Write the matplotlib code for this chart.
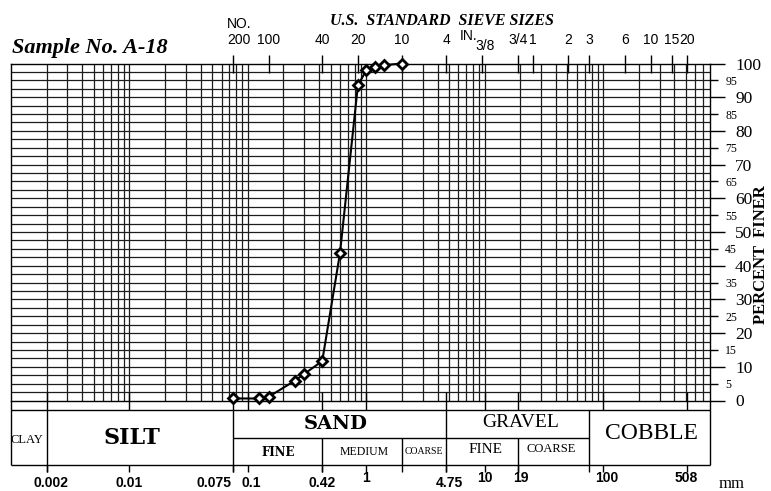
import numpy as np
import matplotlib
matplotlib.use("Agg")
import matplotlib.pyplot as plt
from matplotlib.ticker import NullLocator, FixedLocator, FixedFormatter
from matplotlib.transforms import offset_copy

# ---------------- data ----------------
grain_size_mm = [2.0, 1.4, 1.18, 1.0, 0.85, 0.6, 0.425, 0.3, 0.25, 0.15, 0.125, 0.075]
percent_finer = [100.0, 99.5, 99.0, 98.0, 93.5, 43.7, 11.7, 7.9, 5.9, 1.1, 0.6, 0.6]

sieve_labels = ["200", "100", "40", "20", "10", "4", "3/8", "3/4", "1", "2", "3", "6", "10", "15", "20"]
sieve_mm = [0.075, 0.15, 0.425, 0.85, 2.0, 4.75, 9.5, 19.0, 25.4, 50.8, 76.2, 152.4, 254.0, 381.0, 508.0]

size_labels = ["0.002", "0.01", "0.075", "0.1", "0.42", "1", "4.75", "10", "19", "100", "508"]
size_mm = [0.002, 0.01, 0.075, 0.1, 0.42, 1.0, 4.75, 10.0, 19.0, 100.0, 508.0]

y_major = [0, 10, 20, 30, 40, 50, 60, 70, 80, 90, 100]
y_minor = [5, 15, 25, 35, 45, 55, 65, 75, 85, 95]

# class boundaries (mm)
b_clay_silt, b_silt_sand, b_fine_med, b_med_coarse, b_sand_gravel, b_fg_cg, b_gravel_cobble = \
    0.002, 0.075, 0.42, 2.0, 4.75, 19.0, 76.2

X_MIN, X_MAX = 0.001, 800.0

# ---------------- figure ----------------
W, H = 771, 491
fig = plt.figure(figsize=(W / 100, H / 100), dpi=100)
ax = fig.add_axes([11 / W, (H - 400.5) / H, (710 - 11) / W, 337 / H])
ax.set_xscale("log")
ax.set_xlim(X_MIN, X_MAX)
ax.set_ylim(0, 100)
ax.xaxis.set_major_locator(NullLocator())
ax.xaxis.set_minor_locator(NullLocator())

GC = "#1c1c1c"
# vertical log grid
for d in range(-3, 3):
    for k in range(1, 10):
        v = k * 10.0 ** d
        if X_MIN < v < X_MAX:
            ax.axvline(v, color=GC, lw=0.9, zorder=1)
# horizontal grid every 2.5 %
for yv in np.arange(2.5, 100, 2.5):
    ax.axhline(yv, color=GC, lw=0.9, zorder=1)

for s in ax.spines.values():
    s.set_linewidth(1.0)
    s.set_color("black")

# right-hand percent axis
ax.yaxis.tick_right()
ax.yaxis.set_major_locator(FixedLocator(y_major))
ax.yaxis.set_minor_locator(FixedLocator(y_minor))
ax.yaxis.set_major_formatter(FixedFormatter([str(v) for v in y_major]))
ax.yaxis.set_minor_formatter(FixedFormatter([str(v) for v in y_minor]))
ax.tick_params(axis="y", which="major", direction="out", length=11, width=1,
               pad=7, labelsize=12.5, labelfontfamily="Liberation Serif")
ax.tick_params(axis="y", which="minor", direction="out", length=6, width=1,
               pad=5, labelsize=8.5, labelfontfamily="Liberation Serif")

fig.text(761 / W, (H - 255) / H, "PERCENT  FINER", rotation=90, ha="center", va="center",
         family="Liberation Serif", fontweight="bold", fontsize=12)

# ---------------- data curve ----------------
ax.plot(grain_size_mm, percent_finer, color="black", lw=1.5, marker="D", ms=5.5,
        mfc="white", mec="black", mew=2.0, zorder=5, clip_on=False)

# ---------------- helper for lines outside the axes ----------------
def vline(x, y0, y1, lw=1.0):
    ax.plot([x, x], [y0, y1], color="black", lw=lw, clip_on=False, zorder=3,
            solid_capstyle="butt")

def hline(x0, x1, y, lw=1.0):
    ax.plot([x0, x1], [y, y], color="black", lw=lw, clip_on=False, zorder=3,
            solid_capstyle="butt")

# top sieve ticks and labels
lab_font = ["Liberation Sans Narrow", "Liberation Sans"]
for mm, lab in zip(sieve_mm, sieve_labels):
    vline(mm, 97.3, 102.6)
    dx = 0
    if lab == "200":
        dx = 6
    elif lab == "3/8":
        dx = 3
    yy = 105.3 if lab == "3/8" else 106.9
    tr = offset_copy(ax.transData, fig=fig, x=dx, y=0, units="dots")
    ax.text(mm, yy, lab, transform=tr, ha="center", va="center", fontsize=10,
            family=lab_font, clip_on=False)
ax.text(sieve_mm[0], 111.7, "NO.", transform=offset_copy(ax.transData, fig=fig, x=6, y=0, units="dots"),
        ha="center", va="center", fontsize=10, family=lab_font)
ax.text(sieve_mm[6], 108.3, "IN.", transform=offset_copy(ax.transData, fig=fig, x=-13, y=0, units="dots"),
        ha="center", va="center", fontsize=10, family=lab_font)

fig.text(442 / W, (H - 21) / H, "U.S.  STANDARD  SIEVE SIZES",
         ha="center", va="center", fontsize=11.5, family="Liberation Serif",
         fontweight="bold", fontstyle="italic")
fig.text(12 / W, (H - 52.5) / H, "Sample No. A-18", ha="left", va="baseline",
         fontsize=16, family="Liberation Serif", fontweight="bold", fontstyle="italic")

# ---------------- classification table ----------------
T_TOP, T_MID, T_BOT, T_TICK = -2.82, -11.04, -19.14, -21.3
hline(X_MIN, X_MAX, T_TOP)
hline(X_MIN, X_MAX, T_BOT)
hline(b_silt_sand, b_gravel_cobble, T_MID)
vline(X_MIN, 0, T_BOT)
vline(X_MAX, 0, T_BOT)
# full-height boundaries
for b in [b_clay_silt, b_silt_sand, b_sand_gravel, b_gravel_cobble]:
    vline(b, T_TOP, T_TICK)
# sub-class boundaries
for b in [b_fine_med, b_med_coarse, b_fg_cg]:
    vline(b, T_MID, T_TICK)
# ticks between plot and table, and below the table
for mm in size_mm:
    vline(mm, 2.5, T_TOP)
    vline(mm, T_BOT, T_TICK)

def tlabel(x, y, s, size, family="Liberation Serif", weight="normal"):
    ax.text(x, y, s, ha="center", va="center", fontsize=size, family=family,
            fontweight=weight, clip_on=False)

tlabel(0.00137, -11.6, "CLAY", 9)
tlabel(0.0105, -11.0, "SILT", 16, family="DejaVu Serif", weight="bold")
tlabel(0.55, -7.0, "SAND", 14, family="DejaVu Serif", weight="bold")
tlabel(0.18, -15.4, "FINE", 8.5, family="DejaVu Serif", weight="bold")
tlabel(0.97, -15.2, "MEDIUM", 8.5)
tlabel(3.05, -15.0, "COARSE", 7)
tlabel(20.0, -6.4, "GRAVEL", 14)
tlabel(10.2, -14.4, "FINE", 11)
tlabel(36.5, -14.4, "COARSE", 9)
tlabel(255.0, -9.9, "COBBLE", 17)

# size labels under the table
for mm, lab in zip(size_mm, size_labels):
    dx, dy = 0, 0
    ha = "center"
    if lab == "0.002":
        dx = 4
    if lab == "0.075":
        ha, dx = "right", -2
    if lab == "0.1":
        dx = 3
    if lab == "4.75":
        dx = 3
    if lab == "19":
        dx = 3
    if lab == "100":
        dx = 4
    if lab in ("1", "10", "100", "508", "19"):
        dy = 1.5
    tr = offset_copy(ax.transData, fig=fig, x=dx, y=0, units="dots")
    ax.text(mm, -24.6 + dy, lab, transform=tr, ha=ha, va="center", fontsize=10,
            family=lab_font, fontweight="bold", clip_on=False)
fig.text(732 / W, (H - 484) / H, "mm", ha="center", va="center", fontsize=12,
         family="Liberation Serif")

fig.savefig("out.png", dpi=100, facecolor="white")
